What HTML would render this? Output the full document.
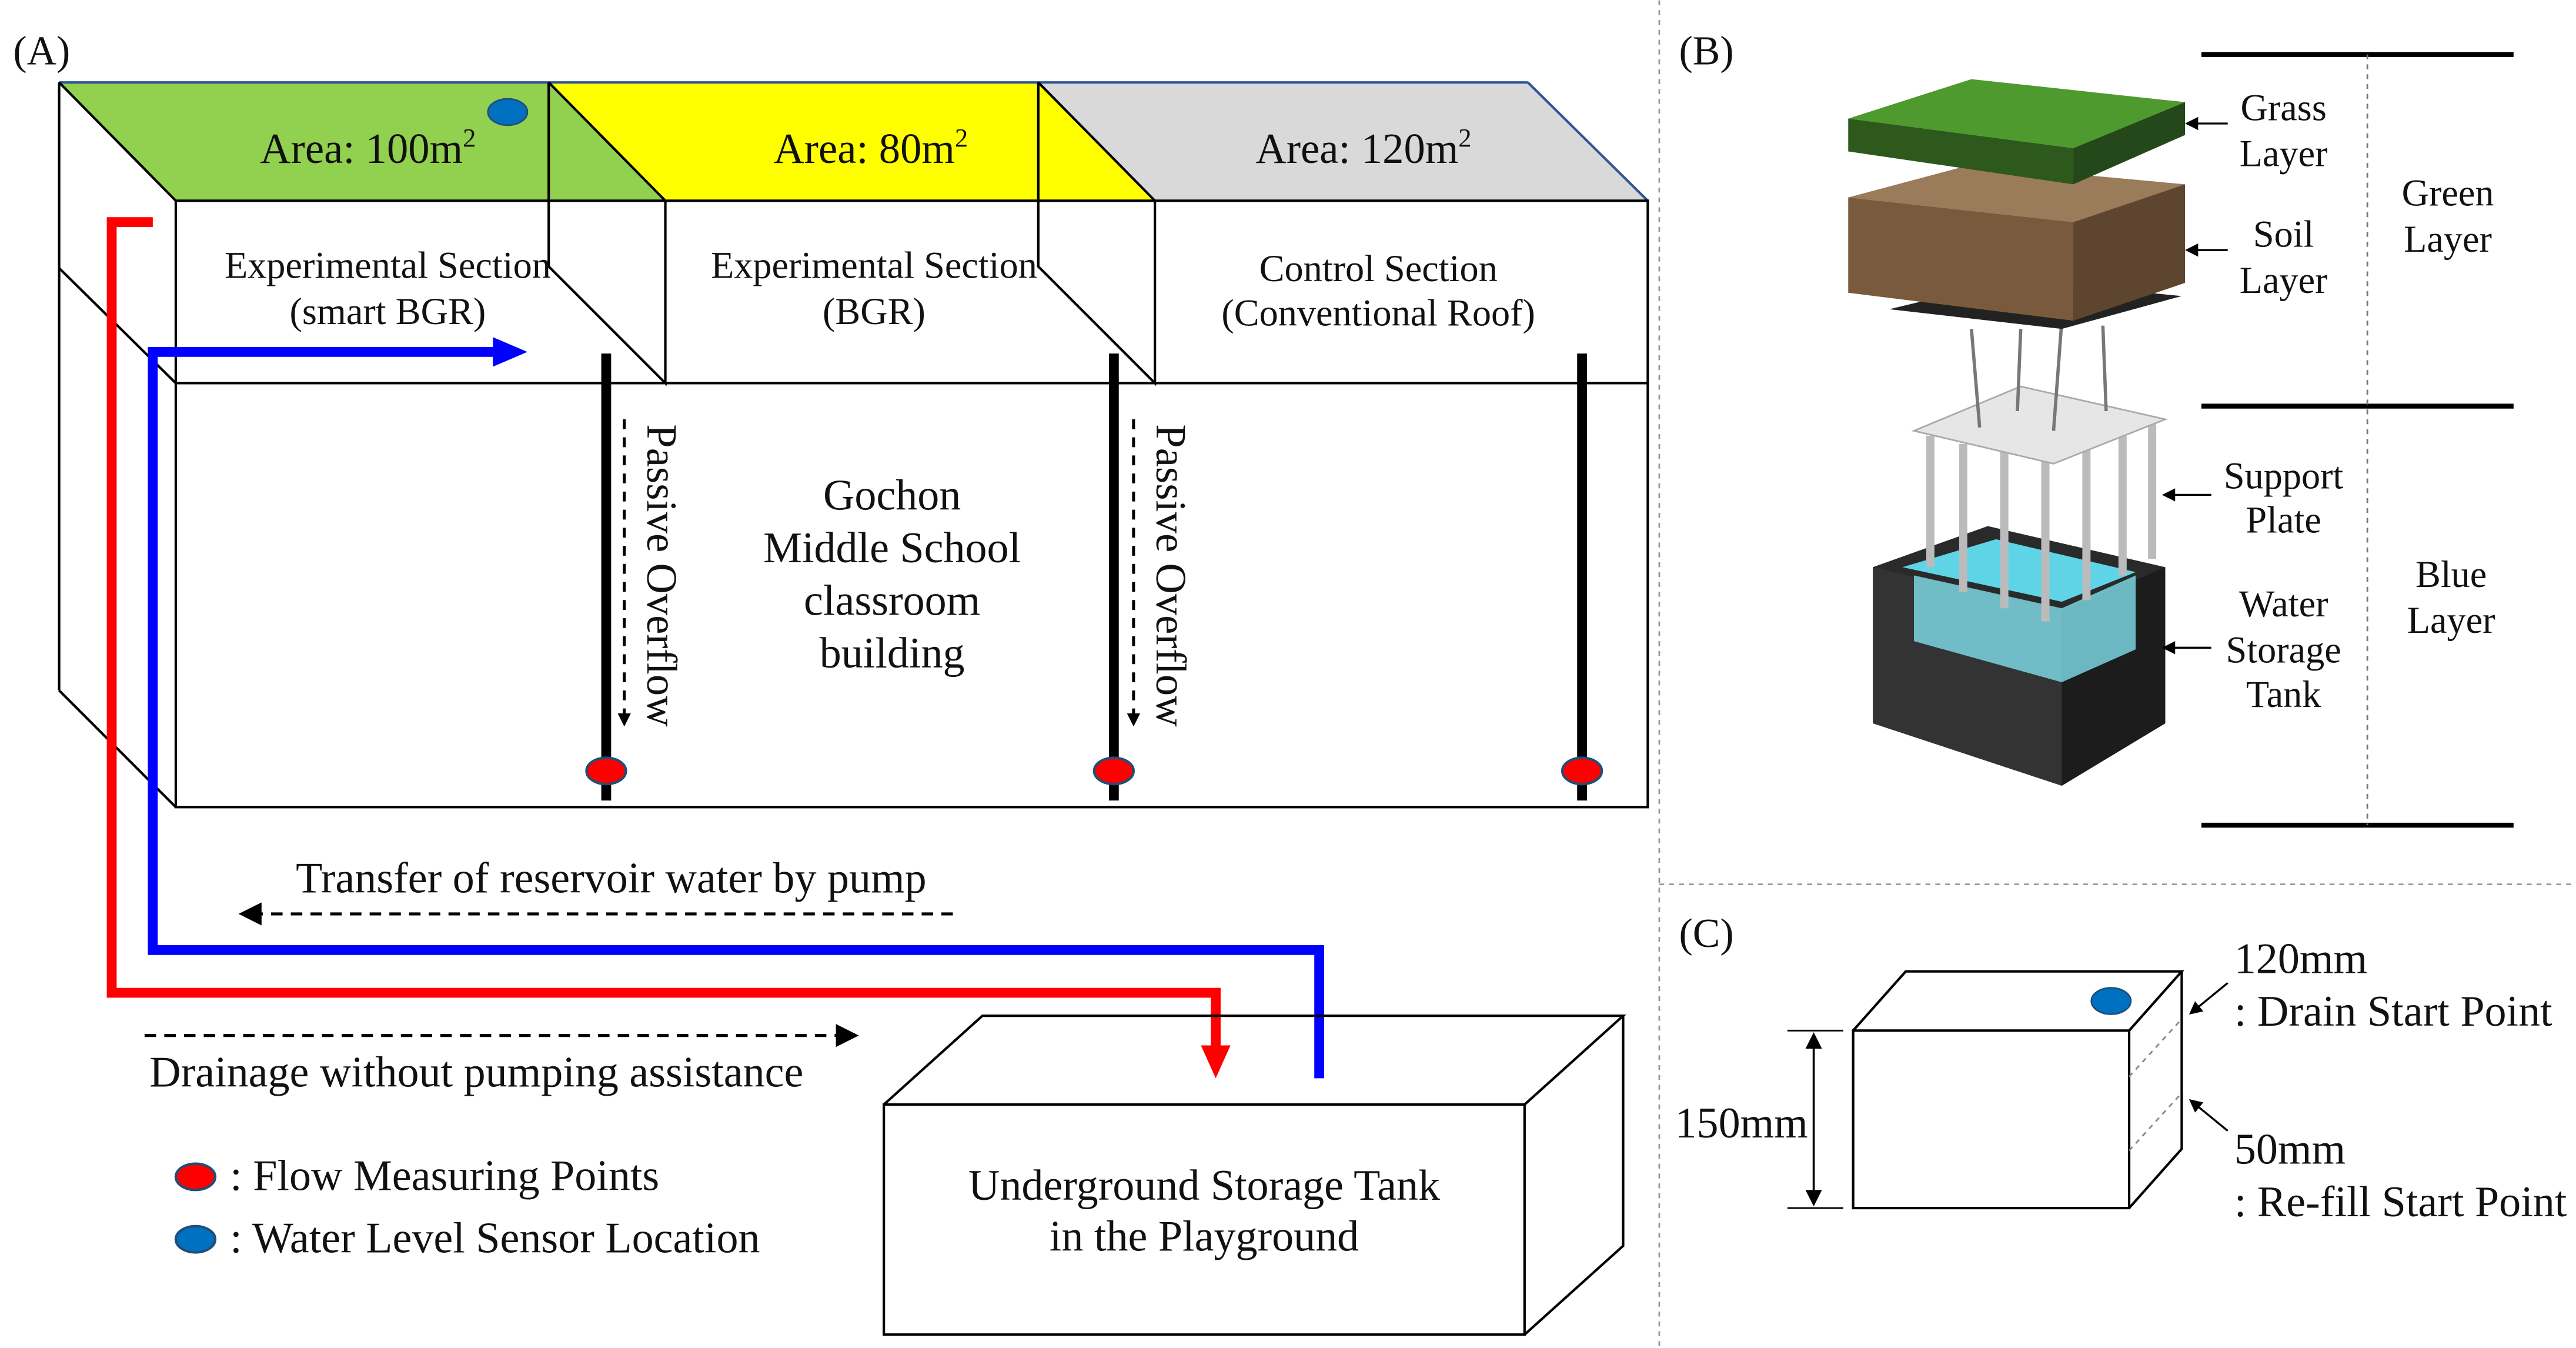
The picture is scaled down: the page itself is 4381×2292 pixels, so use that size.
<!DOCTYPE html>
<html><head><meta charset="utf-8"><style>
html,body{margin:0;padding:0;background:#fff;}
svg{display:block;}
text{font-family:"Liberation Serif",serif;fill:#111;}
</style></head><body>
<svg width="4381" height="2292" viewBox="0 0 1568 820" xmlns="http://www.w3.org/2000/svg">
<defs>
<marker id="ab" markerWidth="8" markerHeight="8" refX="6" refY="4" orient="auto" markerUnits="userSpaceOnUse"><path d="M0,0 L8,4 L0,8 z" fill="#000"/></marker>
<marker id="ak" viewBox="0 0 10 10" markerWidth="14" markerHeight="14" refX="8" refY="5" orient="auto" markerUnits="userSpaceOnUse"><path d="M0,0 L10,5 L0,10 z" fill="#000"/></marker>
</defs>
<rect width="1568" height="820" fill="#fff"/>
<text x="8" y="39" font-size="25">(A)</text>
<polygon points="36,50 334,50 405,122 107,122" fill="#92d050"/>
<polygon points="334,50 632,50 703,122 405,122" fill="#ffff00"/>
<polygon points="632,50 930,50 1003,122 703,122" fill="#d9d9d9"/>
<g stroke="#000" stroke-width="1.5" fill="none">
<line x1="36" y1="50" x2="930" y2="50" stroke="#2f5597"/>
<line x1="930" y1="50" x2="1003" y2="122" stroke="#2f5597"/>
<line x1="36" y1="50" x2="107" y2="122"/>
<line x1="36" y1="50" x2="36" y2="420"/>
<line x1="36" y1="420" x2="107" y2="491"/>
<line x1="36" y1="163" x2="107" y2="233"/>
<rect x="107" y="122" width="896" height="369"/>
<line x1="107" y1="233" x2="1003" y2="233"/>
<line x1="334" y1="50" x2="405" y2="122"/>
<line x1="632" y1="50" x2="703" y2="122"/>
<polyline points="334,50 334,162 405,233 405,122"/>
<polyline points="632,50 632,162 703,233 703,122"/>
</g>
<text x="224" y="99" font-size="26" text-anchor="middle">Area: 100m<tspan font-size="16" dy="-10">2</tspan></text>
<text x="530" y="99" font-size="26" text-anchor="middle">Area: 80m<tspan font-size="16" dy="-10">2</tspan></text>
<text x="830" y="99" font-size="26" text-anchor="middle">Area: 120m<tspan font-size="16" dy="-10">2</tspan></text>
<ellipse cx="309" cy="68" rx="12" ry="8" fill="#0070c0" stroke="#1f4e79"/>
<text x="236" y="169" font-size="23" text-anchor="middle">Experimental Section</text>
<text x="236" y="197" font-size="23" text-anchor="middle">(smart BGR)</text>
<text x="532" y="169" font-size="23" text-anchor="middle">Experimental Section</text>
<text x="532" y="197" font-size="23" text-anchor="middle">(BGR)</text>
<text x="839" y="171" font-size="23" text-anchor="middle">Control Section</text>
<text x="839" y="198" font-size="23" text-anchor="middle">(Conventional Roof)</text>
<g stroke="#000" stroke-width="6">
<line x1="369" y1="215" x2="369" y2="487"/>
<line x1="678" y1="215" x2="678" y2="487"/>
<line x1="963" y1="215" x2="963" y2="487"/>
</g>
<g stroke="#000" stroke-width="1.8" stroke-dasharray="6,5">
<line x1="380" y1="255" x2="380" y2="440" marker-end="url(#ab)"/>
<line x1="690" y1="255" x2="690" y2="440" marker-end="url(#ab)"/>
</g>
<text font-size="26" transform="translate(394,258) rotate(90)">Passive Overflow</text>
<text font-size="26" transform="translate(704,258) rotate(90)">Passive Overflow</text>
<g fill="#ff0000" stroke="#1f4e79" stroke-width="1.5">
<ellipse cx="369" cy="469" rx="12" ry="8"/>
<ellipse cx="678" cy="469" rx="12" ry="8"/>
<ellipse cx="963" cy="469" rx="12" ry="8"/>
</g>
<g font-size="26.5" text-anchor="middle">
<text x="543" y="310">Gochon</text>
<text x="543" y="342">Middle School</text>
<text x="543" y="374">classroom</text>
<text x="543" y="406">building</text>
</g>
<polyline points="93,135 68,135 68,604 740,604 740,638" fill="none" stroke="#ff0000" stroke-width="6"/>
<polygon points="731,636 749,636 740,656" fill="#ff0000"/>
<polyline points="300,214 93,214 93,578 803,578 803,656" fill="none" stroke="#0000ff" stroke-width="6"/>
<polygon points="300,205 321,214 300,223" fill="#0000ff"/>
<line x1="580" y1="556" x2="148" y2="556" stroke="#000" stroke-width="1.8" stroke-dasharray="7,5" marker-end="url(#ak)"/>
<text x="372" y="543" font-size="26.5" text-anchor="middle">Transfer of reservoir water by pump</text>
<line x1="88" y1="630" x2="520" y2="630" stroke="#000" stroke-width="1.8" stroke-dasharray="7,5" marker-end="url(#ak)"/>
<text x="290" y="661" font-size="26.5" text-anchor="middle">Drainage without pumping assistance</text>
<ellipse cx="119" cy="716" rx="12" ry="8" fill="#ff0000" stroke="#1f4e79" stroke-width="1.5"/>
<text x="140" y="724" font-size="26.5">: Flow Measuring Points</text>
<ellipse cx="119" cy="754" rx="12" ry="8" fill="#0070c0" stroke="#1f4e79" stroke-width="1.5"/>
<text x="140" y="762" font-size="26.5">: Water Level Sensor Location</text>
<g stroke="#000" stroke-width="1.5" fill="none">
<rect x="538" y="672" width="390" height="140"/>
<polyline points="538,672 598,618 988,618 928,672"/>
<polyline points="988,618 988,758 928,812"/>
</g>
<text x="733" y="730" font-size="26.5" text-anchor="middle">Underground Storage Tank</text>
<text x="733" y="761" font-size="26.5" text-anchor="middle">in the Playground</text>
<line x1="1010" y1="0" x2="1010" y2="820" stroke="#999" stroke-width="1" stroke-dasharray="3,3"/>
<line x1="1010" y1="538" x2="1568" y2="538" stroke="#999" stroke-width="1" stroke-dasharray="3,3"/>
<text x="1022" y="39" font-size="25">(B)</text>
<polygon points="1140,345 1210,320 1318,345 1318,440 1255,478 1140,440" fill="#2a2a2a"/>
<polygon points="1140,345 1255,372 1255,478 1140,440" fill="#333"/>
<polygon points="1255,372 1318,345 1318,440 1255,478" fill="#1c1c1c"/>
<polygon points="1158,345 1215,328 1300,348 1255,366" fill="#5fd4e6"/>
<polygon points="1165,350 1255,370 1300,350 1300,395 1255,415 1165,390" fill="#7fe0ee" opacity="0.8"/>
<g stroke="#bbb" stroke-width="5">
<line x1="1175" y1="265" x2="1175" y2="345"/><line x1="1195" y1="270" x2="1195" y2="360"/>
<line x1="1220" y1="275" x2="1220" y2="370"/><line x1="1245" y1="278" x2="1245" y2="378"/>
<line x1="1270" y1="272" x2="1270" y2="365"/><line x1="1292" y1="265" x2="1292" y2="350"/>
<line x1="1310" y1="258" x2="1310" y2="340"/>
</g>
<polygon points="1165,262 1230,235 1318,255 1250,282" fill="#e6e6e6" stroke="#aaa"/>
<g stroke="#777" stroke-width="2">
<line x1="1200" y1="200" x2="1205" y2="260"/><line x1="1230" y1="200" x2="1228" y2="250"/><line x1="1255" y1="195" x2="1250" y2="262"/><line x1="1280" y1="198" x2="1282" y2="250"/>
</g>
<polygon points="1150,188 1225,170 1328,180 1255,200" fill="#222"/>
<polygon points="1125,120 1200,100 1330,112 1262,135" fill="#9a7b5a"/>
<polygon points="1125,120 1262,135 1262,195 1125,178" fill="#7a5a3c"/>
<polygon points="1262,135 1330,112 1330,172 1262,195" fill="#5e4530"/>
<polygon points="1125,72 1200,48 1330,62 1262,90" fill="#4f9a2e"/>
<polygon points="1125,72 1262,90 1262,112 1125,92" fill="#2d5a1c"/>
<polygon points="1262,90 1330,62 1330,82 1262,112" fill="#24481a"/>
<g font-size="23" text-anchor="middle">
<text x="1390" y="73">Grass</text><text x="1390" y="101">Layer</text>
<text x="1390" y="150">Soil</text><text x="1390" y="178">Layer</text>
<text x="1490" y="125">Green</text><text x="1490" y="153">Layer</text>
<text x="1390" y="297">Support</text><text x="1390" y="324">Plate</text>
<text x="1390" y="375">Water</text><text x="1390" y="403">Storage</text><text x="1390" y="430">Tank</text>
<text x="1492" y="357">Blue</text><text x="1492" y="385">Layer</text>
</g>
<g stroke="#000" stroke-width="1.2">
<line x1="1356" y1="75" x2="1332" y2="75" marker-end="url(#ab)"/>
<line x1="1356" y1="152" x2="1332" y2="152" marker-end="url(#ab)"/>
<line x1="1346" y1="301" x2="1318" y2="301" marker-end="url(#ab)"/>
<line x1="1346" y1="394" x2="1318" y2="394" marker-end="url(#ab)"/>
</g>
<g stroke="#000" stroke-width="3">
<line x1="1340" y1="33" x2="1530" y2="33"/><line x1="1340" y1="247" x2="1530" y2="247"/><line x1="1340" y1="502" x2="1530" y2="502"/>
</g>
<line x1="1441" y1="33" x2="1441" y2="502" stroke="#777" stroke-width="1" stroke-dasharray="3,3"/>
<text x="1022" y="576" font-size="25">(C)</text>
<g stroke="#000" stroke-width="1.5" fill="none">
<rect x="1128" y="627" width="168" height="108"/>
<polyline points="1128,627 1160,591 1328,591 1296,627"/>
<polyline points="1328,591 1328,699 1296,735"/>
</g>
<g stroke="#888" stroke-width="1" stroke-dasharray="3,3">
<line x1="1296" y1="655" x2="1328" y2="620"/><line x1="1296" y1="700" x2="1328" y2="665"/>
</g>
<ellipse cx="1285" cy="609" rx="12" ry="8" fill="#0070c0" stroke="#1f4e79"/>
<line x1="1104" y1="630" x2="1104" y2="732" stroke="#000" stroke-width="1.3"/>
<polygon points="1099,638 1104,628 1109,638" fill="#000"/><polygon points="1099,724 1104,734 1109,724" fill="#000"/>
<line x1="1088" y1="627" x2="1122" y2="627" stroke="#000"/><line x1="1088" y1="735" x2="1122" y2="735" stroke="#000"/>
<text x="1060" y="692" font-size="26.5" text-anchor="middle">150mm</text>
<text x="1360" y="592" font-size="26.5">120mm</text>
<text x="1360" y="624" font-size="26.5">: Drain Start Point</text>
<text x="1360" y="708" font-size="26.5">50mm</text>
<text x="1360" y="740" font-size="26.5">: Re-fill Start Point</text>
<line x1="1356" y1="598" x2="1334" y2="616" stroke="#000" stroke-width="1.2" marker-end="url(#ab)"/>
<line x1="1356" y1="688" x2="1334" y2="670" stroke="#000" stroke-width="1.2" marker-end="url(#ab)"/>
</svg>
</body></html>
